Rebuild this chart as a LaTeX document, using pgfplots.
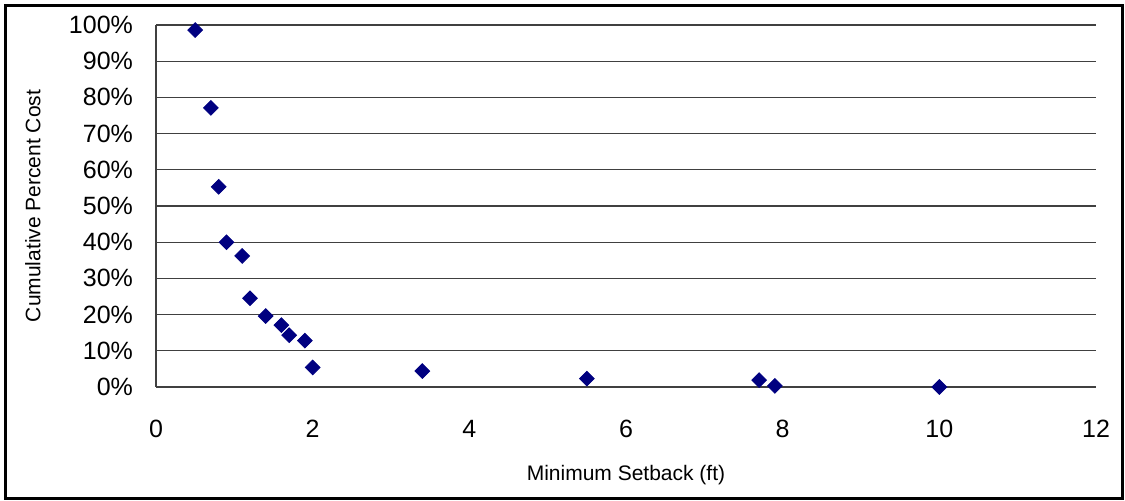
\documentclass[border=0pt]{standalone}
\usepackage{pgfplots}
\pgfplotsset{compat=1.18}
\usepackage{fontspec}
\setmainfont{Liberation Sans}
\definecolor{navy}{HTML}{000080}
\begin{document}
\begin{tikzpicture}
\useasboundingbox (0,0) rectangle (562.5pt,250.5pt);
\draw[line width=1.6pt] (2.75pt,1.25pt) rectangle (561.25pt,247.75pt);
\begin{axis}[
  at={(78pt,57pt)}, anchor=south west,
  scale only axis, width=470pt, height=181pt,
  xmin=0, xmax=12, ymin=0, ymax=100,
  axis x line*=bottom, axis y line*=left,
  axis line style={black!75, line width=0.6pt, -},
  xtick={0,2,4,6,8,10,12},
  xticklabels={0,2,4,6,8,10,12},
  ytick={0,10,...,100},
  yticklabels={0\%,10\%,20\%,30\%,40\%,50\%,60\%,70\%,80\%,90\%,100\%},
  major tick length=0pt,
  ymajorgrids,
  grid style={black!75, line width=0.6pt},
  tick label style={font=\fontsize{12.5pt}{14pt}\selectfont},
  yticklabel style={xshift=-8pt},
  xticklabel style={yshift=-13pt},
  xlabel={Minimum Setback (ft)},
  ylabel={Cumulative Percent Cost},
  label style={font=\fontsize{10.5pt}{12pt}\selectfont},
  xlabel style={at={(axis description cs:0.5,-0.243)}, anchor=center},
  ylabel style={at={(axis description cs:-0.131,0.5)}, anchor=center},
  clip=false,
]
\addplot[only marks, mark=square*, mark size=2.6pt, mark options={rotate=45, fill=navy, draw=navy}] coordinates {
(0.5,98.6) (0.7,77.1) (0.8,55.3) (0.9,40.0) (1.1,36.2) (1.2,24.5)
(1.4,19.6) (1.6,17.1) (1.7,14.3) (1.9,12.8) (2.0,5.4) (3.4,4.4)
(5.5,2.3) (7.7,1.9) (7.9,0.3) (10.0,0.0)
};
\end{axis}
\end{tikzpicture}
\end{document}
